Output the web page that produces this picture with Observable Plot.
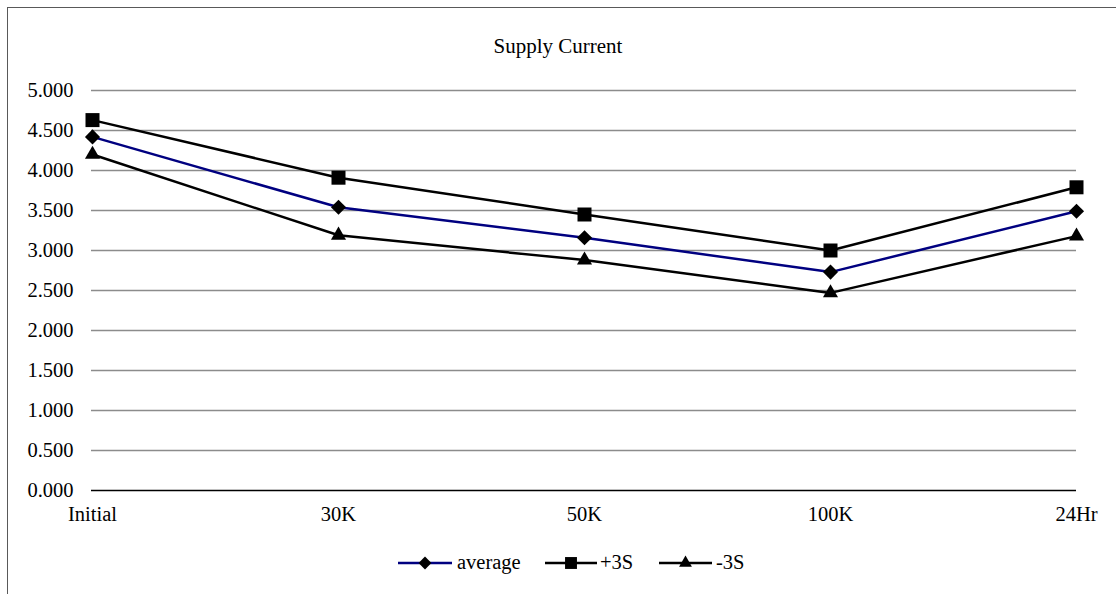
<!DOCTYPE html>
<html><head><meta charset="utf-8">
<script src="https://cdn.jsdelivr.net/npm/d3@7"></script>
<script src="https://cdn.jsdelivr.net/npm/@observablehq/plot@0.6"></script>
<style>
body{margin:0;background:#fff;overflow:hidden;}
#wrap{position:relative;width:1116px;height:594px;overflow:hidden;font-family:"Liberation Serif","Times New Roman",serif;color:#000;}
#frame{position:absolute;left:7px;top:7px;width:1300px;height:800px;border:1.5px solid #595959;box-sizing:border-box;}
#title{position:absolute;left:0;width:1116px;top:36px;text-align:center;font-size:21px;line-height:21px;}
#chart{position:absolute;left:0;top:0;}
#legend{position:absolute;left:0;top:540px;}
</style></head>
<body>
<div id="wrap">
  <div id="frame"></div>
  <div id="chart"></div>
  <div id="title">Supply Current</div>
  <svg id="legend" width="1116" height="54"></svg>
</div>
<script>
const categories = ["Initial", "30K", "50K", "100K", "24Hr"];
const average = [4.42, 3.54, 3.16, 2.73, 3.49];
const plus3S = [4.63, 3.91, 3.45, 3.00, 3.79];
const minus3S = [4.20, 3.19, 2.88, 2.47, 3.18];
const yTicks = [0, 0.5, 1, 1.5, 2, 2.5, 3, 3.5, 4, 4.5, 5];
const seriesNames = ["average", "+3S", "-3S"];
const seriesColors = ["#000080", "#000000", "#000000"];
const seriesSymbols = ["diamond2", "square", "triangle"];
const seriesR = [6.8, 7.9, 5.6];

const seriesValues = [average, plus3S, minus3S];
const rows = seriesNames.map((s, k) => categories.map((c, i) => ({cat: c, v: seriesValues[k][i], s})));

const marks = [
  Plot.ruleY(yTicks.filter(d => d > 0), {stroke: "#8c8c8c", strokeWidth: 1.5}),
  Plot.ruleY([0], {stroke: "#000", strokeWidth: 1.5}),
  Plot.axisY({ticks: yTicks, tickFormat: d3.format(".3f"), tickSize: 0, tickPadding: 18, label: null}),
  Plot.axisX({tickSize: 0, tickPadding: 16, label: null})
];
rows.forEach((r, k) => {
  marks.push(Plot.line(r, {x: "cat", y: "v", stroke: seriesColors[k], strokeWidth: 2.5}));
});
rows.forEach((r, k) => {
  marks.push(Plot.dot(r, {x: "cat", y: "v", symbol: () => seriesSymbols[k], r: seriesR[k], fill: "#000", stroke: "none"}));
});

const chart = Plot.plot({
  width: 1116, height: 540,
  marginLeft: 91, marginRight: 40, marginTop: 90, marginBottom: 50,
  style: {fontFamily: "'Liberation Serif', 'Times New Roman', serif", fontSize: "20.5px", background: "transparent", color: "#000"},
  x: {type: "point", domain: categories, padding: 0, label: null},
  y: {domain: [0, 5], label: null},
  symbol: {type: "identity"},
  marks
});
document.getElementById("chart").appendChild(chart);

// legend
const leg = d3.select("#legend");
const legItems = [
  {x0: 398, x1: 452, tx: 457},
  {x0: 545, x1: 597, tx: 600},
  {x0: 659, x1: 712, tx: 716}
];
const d3sym = {diamond2: d3.symbolDiamond2, square: d3.symbolSquare, triangle: d3.symbolTriangle};
seriesNames.forEach((name, k) => {
  const it = legItems[k];
  leg.append("line").attr("x1", it.x0).attr("x2", it.x1).attr("y1", 23).attr("y2", 23)
    .attr("stroke", seriesColors[k]).attr("stroke-width", 2.5);
  const size = Math.PI * (seriesR[k] * 0.85) ** 2;
  leg.append("path").attr("d", d3.symbol(d3sym[seriesSymbols[k]], size)())
    .attr("transform", `translate(${(it.x0 + it.x1) / 2},23)`).attr("fill", "#000");
  leg.append("text").attr("x", it.tx).attr("y", 29).text(name)
    .style("font-family", "'Liberation Serif','Times New Roman',serif").style("font-size", "20.5px");
});
</script>
</body></html>
